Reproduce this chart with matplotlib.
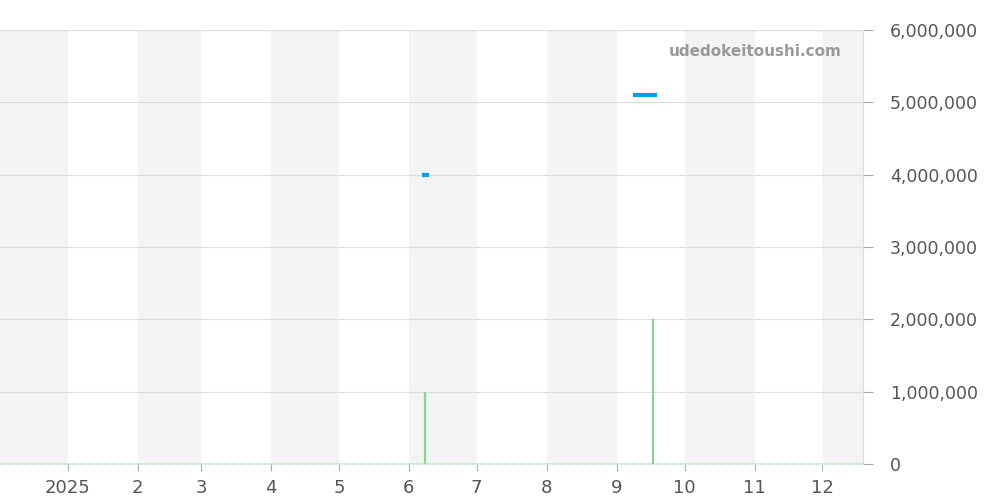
import matplotlib
matplotlib.use("Agg")
import matplotlib.pyplot as plt
import datetime as dt

plt.rcParams["font.family"] = ["DejaVu Sans"]

# Price segments (listing price, JPY)
price_seg1_dates = ["2025-06-07", "2025-06-10"]
price_seg1_values = [4000000, 4000000]
price_seg2_dates = ["2025-09-08", "2025-09-19"]
price_seg2_values = [5100000, 5100000]

# Volume bars
vol_dates = ["2025-06-08", "2025-09-17"]
vol_values = [1000000, 2000000]

# Month tick labels
month_ticks = ["2025-01-01", "2025-02-01", "2025-03-01", "2025-04-01", "2025-05-01",
               "2025-06-01", "2025-07-01", "2025-08-01", "2025-09-01", "2025-10-01",
               "2025-11-01", "2025-12-01"]
month_labels = ["2025", "2", "3", "4", "5", "6", "7", "8", "9", "10", "11", "12"]

# Shaded months (start, end)
shade_months = [("2024-12-01", "2025-01-01"), ("2025-02-01", "2025-03-01"),
                ("2025-04-01", "2025-05-01"), ("2025-06-01", "2025-07-01"),
                ("2025-08-01", "2025-09-01"), ("2025-10-01", "2025-11-01"),
                ("2025-12-01", "2026-01-01")]

yticks = [0, 1000000, 2000000, 3000000, 4000000, 5000000, 6000000]

def d(s):
    return dt.datetime.strptime(s, "%Y-%m-%d")

fig = plt.figure(figsize=(10, 5), dpi=100)
ax = fig.add_axes([0.0, 0.072, 0.863, 0.868])

xmin, xmax = d("2024-12-02"), d("2025-12-19")

for s, e in shade_months:
    ax.axvspan(d(s), d(e), color="#f4f4f4", zorder=0, lw=0)

ax.set_ylim(0, 6000000)
ax.set_xlim(xmin, xmax)
ax.set_yticks(yticks)
ax.set_yticklabels([f"{v:,}" for v in yticks])
ax.yaxis.tick_right()
ax.grid(axis="y", color="#dddddd", lw=0.8, zorder=1)

# volume baseline + bars
ax.plot([xmin, xmax], [0, 0], color="#b0e0b9", lw=1.2, ls=(0, (1, 0.6)), zorder=3, clip_on=False)
ax.vlines([d(x) for x in vol_dates], 0, vol_values, color="#88d498", lw=1.6, zorder=3)

# price segments
ax.plot([d(x) for x in price_seg1_dates], price_seg1_values, color="#00a0e9", lw=3, zorder=4,
        solid_capstyle="butt")
ax.plot([d(x) for x in price_seg2_dates], price_seg2_values, color="#00a0e9", lw=3, zorder=4,
        solid_capstyle="butt")

ax.set_xticks([d(x) for x in month_ticks])
ax.set_xticklabels(month_labels)

for side in ["left", "bottom"]:
    ax.spines[side].set_visible(False)
ax.spines["top"].set_color("#dddddd")
ax.spines["right"].set_color("#dddddd")
ax.tick_params(axis="x", length=5, color="#aaaaaa", labelcolor="#555555", labelsize=13, pad=6)
ax.tick_params(axis="y", length=7, color="#aaaaaa", labelcolor="#555555", labelsize=12.5, pad=12.5)

ax.text(0.975, 0.95, "udedokeitoushi.com", transform=ax.transAxes, ha="right", va="center",
        fontsize=11, fontweight="bold", color="#999999", zorder=5)

fig.savefig("out.png", dpi=100)
